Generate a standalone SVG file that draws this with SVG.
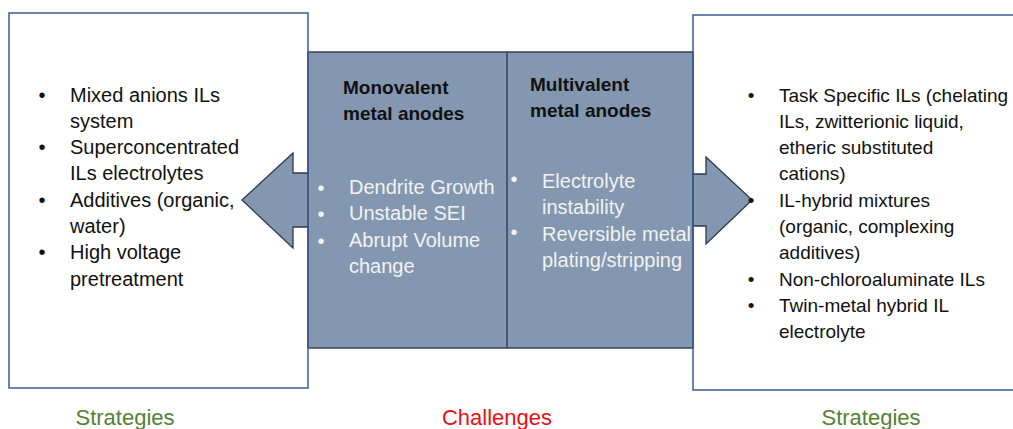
<svg xmlns="http://www.w3.org/2000/svg" width="1013" height="429" viewBox="0 0 1013 429">
  <style>
    .side { fill: none; stroke: #3A5C92; stroke-width: 1.5; }
    .core { fill: #8497B0; stroke: #34435A; stroke-width: 1.5; }
    .arrow { fill: #8497B0; stroke: #2C3A50; stroke-width: 1.3; stroke-linejoin: miter; }
    .body { font-family: "Liberation Sans", Arial, sans-serif; font-size: 20px; fill: #111111; }
    .bodyR { font-family: "Liberation Sans", Arial, sans-serif; font-size: 19px; fill: #111111; }
    .light { font-family: "Liberation Sans", Arial, sans-serif; font-size: 20px; fill: #F2F2F2; }
    .head { font-family: "Liberation Sans", Arial, sans-serif; font-size: 19px; font-weight: bold; fill: #111111; }
    .dot { text-anchor: middle; }
    .cap { font-family: "Liberation Sans", Arial, sans-serif; font-size: 22px; text-anchor: middle; }
  </style>

  <!-- central challenges panel -->
  <g id="challenges">
    <rect class="core" x="308" y="52" width="385" height="296"/>
    <line x1="507" y1="52" x2="507" y2="348" stroke="#34435A" stroke-width="1.5"/>
    <text class="head" x="343" y="94">Monovalent</text>
    <text class="head" x="343" y="120">metal anodes</text>
    <text class="head" x="530" y="91">Multivalent</text>
    <text class="head" x="530" y="117">metal anodes</text>

    <text class="light dot" x="321" y="195">•</text>
    <text class="light dot" x="321" y="221">•</text>
    <text class="light dot" x="321" y="248">•</text>
    <text class="light" x="349" y="194">Dendrite Growth</text>
    <text class="light" x="349" y="220">Unstable SEI</text>
    <text class="light" x="349" y="247">Abrupt Volume</text>
    <text class="light" x="349" y="273">change</text>

    <text class="light dot" x="514" y="186">•</text>
    <text class="light dot" x="514" y="239">•</text>
    <text class="light" x="542" y="188">Electrolyte</text>
    <text class="light" x="542" y="214">instability</text>
    <text class="light" x="542" y="241">Reversible metal</text>
    <text class="light" x="542" y="267">plating/stripping</text>
  </g>

  <!-- block arrows pointing out to each strategy panel -->
  <g id="connectors">
    <polygon class="arrow" points="308,173 293,173 293,153 242,200 293,248 293,227 308,227"/>
    <polygon class="arrow" points="693,174 706,174 706,157 752,200 706,244 706,226 693,226"/>
  </g>

  <!-- left strategies panel -->
  <g id="strategies-left">
    <rect class="side" x="9" y="13" width="299" height="375"/>
    <text class="body dot" x="42" y="102">•</text>
    <text class="body dot" x="42" y="154">•</text>
    <text class="body dot" x="42" y="207">•</text>
    <text class="body dot" x="42" y="259">•</text>
    <text class="body" x="70" y="102">Mixed anions ILs</text>
    <text class="body" x="70" y="128">system</text>
    <text class="body" x="70" y="154">Superconcentrated</text>
    <text class="body" x="70" y="180">ILs electrolytes</text>
    <text class="body" x="70" y="207">Additives (organic,</text>
    <text class="body" x="70" y="233">water)</text>
    <text class="body" x="70" y="259">High voltage</text>
    <text class="body" x="70" y="286">pretreatment</text>
  </g>

  <!-- right strategies panel -->
  <g id="strategies-right">
    <rect class="side" x="693" y="15" width="340" height="375"/>
    <text class="bodyR dot" x="751" y="102">•</text>
    <text class="bodyR dot" x="751" y="207">•</text>
    <text class="bodyR dot" x="751" y="286">•</text>
    <text class="bodyR dot" x="751" y="312">•</text>
    <text class="bodyR" x="779" y="102">Task Specific ILs (chelating</text>
    <text class="bodyR" x="779" y="128">ILs, zwitterionic liquid,</text>
    <text class="bodyR" x="779" y="154">etheric substituted</text>
    <text class="bodyR" x="779" y="180">cations)</text>
    <text class="bodyR" x="779" y="207">IL-hybrid mixtures</text>
    <text class="bodyR" x="779" y="233">(organic, complexing</text>
    <text class="bodyR" x="779" y="259">additives)</text>
    <text class="bodyR" x="779" y="286">Non-chloroaluminate ILs</text>
    <text class="bodyR" x="779" y="312">Twin-metal hybrid IL</text>
    <text class="bodyR" x="779" y="338">electrolyte</text>
  </g>

  <!-- captions -->
  <g id="captions">
    <text class="cap" x="125" y="425" fill="#548235">Strategies</text>
    <text class="cap" x="497" y="425" fill="#E8100F">Challenges</text>
    <text class="cap" x="871" y="425" fill="#548235">Strategies</text>
  </g>
</svg>
